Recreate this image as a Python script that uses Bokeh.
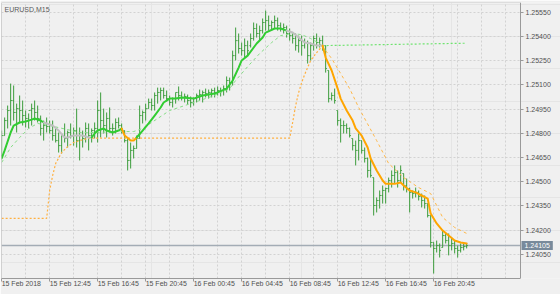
import numpy as np
from bokeh.plotting import figure
from bokeh.models import (Range1d, LinearAxis, FixedTicker, Grid, Label,
                          ColumnDataSource, PrintfTickFormatter)
from bokeh.embed import file_html
from bokeh.resources import INLINE

# ---------------- data (EURUSD M15, 15 Feb 08:45 .. 16 Feb 23:30) ----------------
high = [
1.24817, 1.24898, 1.24972, 1.25108, 1.25096, 1.24984, 1.25034, 1.25003, 1.24941, 1.24923,
1.24984, 1.25003, 1.24972, 1.24910, 1.24879, 1.24898, 1.24879, 1.24879, 1.24830, 1.24805,
1.24786, 1.24861, 1.24817, 1.24861, 1.24836, 1.24953, 1.24836, 1.24817, 1.24867, 1.24861,
1.24830, 1.24867, 1.25003, 1.25053, 1.24953, 1.24929, 1.24960, 1.24861, 1.24892, 1.24898,
1.24861, 1.24817, 1.24774, 1.24743, 1.24724, 1.24786, 1.24972, 1.24941, 1.24984, 1.25015,
1.25015, 1.25053, 1.25083, 1.25083, 1.25083, 1.25065, 1.25034, 1.25022, 1.25053, 1.25090,
1.25059, 1.25046, 1.25040, 1.25028, 1.25022, 1.25046, 1.25071, 1.25065, 1.25077, 1.25071,
1.25077, 1.25083, 1.25090, 1.25083, 1.25096, 1.25152, 1.25145, 1.25312, 1.25455, 1.25418,
1.25362, 1.25387, 1.25374, 1.25418, 1.25486, 1.25480, 1.25467, 1.25511, 1.25560, 1.25529,
1.25498, 1.25529, 1.25517, 1.25486, 1.25480, 1.25467, 1.25449, 1.25424, 1.25418, 1.25405,
1.25405, 1.25387, 1.25374, 1.25362, 1.25405, 1.25418, 1.25393, 1.25405, 1.25343, 1.25189,
1.25053, 1.25077, 1.24941, 1.24892, 1.24879, 1.24861, 1.24836, 1.24768, 1.24755, 1.24799,
1.24755, 1.24712, 1.24650, 1.24644, 1.24526, 1.24403, 1.24446, 1.24477, 1.24464, 1.24526,
1.24570, 1.24601, 1.24570, 1.24601, 1.24551, 1.24520, 1.24464, 1.24446, 1.24464, 1.24446,
1.24427, 1.24415, 1.24365, 1.24291, 1.24124, 1.24136, 1.24118, 1.24198, 1.24186, 1.24180,
1.24155, 1.24136, 1.24105, 1.24118, 1.24118, 1.24118]

low = [
1.24650, 1.24786, 1.24830, 1.24848, 1.24879, 1.24805, 1.24867, 1.24848, 1.24836, 1.24830,
1.24848, 1.24879, 1.24867, 1.24786, 1.24755, 1.24805, 1.24799, 1.24755, 1.24743, 1.24681,
1.24675, 1.24743, 1.24712, 1.24768, 1.24724, 1.24712, 1.24632, 1.24712, 1.24743, 1.24694,
1.24743, 1.24768, 1.24743, 1.24774, 1.24799, 1.24774, 1.24805, 1.24786, 1.24799, 1.24830,
1.24799, 1.24743, 1.24570, 1.24582, 1.24644, 1.24706, 1.24768, 1.24861, 1.24879, 1.24953,
1.24941, 1.24941, 1.24984, 1.25003, 1.25015, 1.24997, 1.24972, 1.24960, 1.24984, 1.25003,
1.25003, 1.24991, 1.24978, 1.24960, 1.24972, 1.24991, 1.25003, 1.24991, 1.25022, 1.25015,
1.25022, 1.25022, 1.25034, 1.25028, 1.25034, 1.25053, 1.25065, 1.25096, 1.25251, 1.25294,
1.25281, 1.25269, 1.25281, 1.25331, 1.25374, 1.25393, 1.25374, 1.25418, 1.25436, 1.25436,
1.25436, 1.25449, 1.25436, 1.25430, 1.25418, 1.25393, 1.25374, 1.25356, 1.25312, 1.25300,
1.25281, 1.25325, 1.25232, 1.25251, 1.25312, 1.25325, 1.25331, 1.25312, 1.25176, 1.24991,
1.25003, 1.24984, 1.24848, 1.24743, 1.24799, 1.24799, 1.24774, 1.24694, 1.24601, 1.24632,
1.24675, 1.24619, 1.24526, 1.24526, 1.24291, 1.24310, 1.24334, 1.24365, 1.24365, 1.24434,
1.24464, 1.24487, 1.24464, 1.24495, 1.24446, 1.24434, 1.24310, 1.24396, 1.24403, 1.24384,
1.24341, 1.24334, 1.24279, 1.24093, 1.23932, 1.24062, 1.24031, 1.24093, 1.24118, 1.24044,
1.24075, 1.24056, 1.24031, 1.24062, 1.24075, 1.24087]

open_ = [
1.24663, 1.24786, 1.24879, 1.24941, 1.25003, 1.24929, 1.24953, 1.24941, 1.24910, 1.24892,
1.24941, 1.24953, 1.24929, 1.24892, 1.24830, 1.24848, 1.24842, 1.24817, 1.24786, 1.24755,
1.24724, 1.24786, 1.24768, 1.24805, 1.24786, 1.24817, 1.24755, 1.24786, 1.24768, 1.24830,
1.24786, 1.24817, 1.24830, 1.24941, 1.24879, 1.24848, 1.24892, 1.24830, 1.24830, 1.24867,
1.24848, 1.24817, 1.24755, 1.24632, 1.24694, 1.24706, 1.24768, 1.24910, 1.24929, 1.24953,
1.24991, 1.24972, 1.25034, 1.25053, 1.25065, 1.25034, 1.25015, 1.24991, 1.25015, 1.25053,
1.25034, 1.25022, 1.25028, 1.25003, 1.24991, 1.25015, 1.25034, 1.25040, 1.25053, 1.25046,
1.25053, 1.25065, 1.25053, 1.25065, 1.25065, 1.25077, 1.25127, 1.25114, 1.25281, 1.25374,
1.25325, 1.25312, 1.25343, 1.25343, 1.25387, 1.25449, 1.25418, 1.25436, 1.25486, 1.25498,
1.25467, 1.25486, 1.25498, 1.25467, 1.25449, 1.25455, 1.25418, 1.25405, 1.25387, 1.25343,
1.25374, 1.25343, 1.25362, 1.25281, 1.25343, 1.25387, 1.25362, 1.25374, 1.25343, 1.25189,
1.25015, 1.25034, 1.24941, 1.24879, 1.24848, 1.24848, 1.24830, 1.24768, 1.24724, 1.24694,
1.24755, 1.24694, 1.24644, 1.24570, 1.24526, 1.24353, 1.24384, 1.24415, 1.24446, 1.24458,
1.24508, 1.24539, 1.24557, 1.24508, 1.24551, 1.24477, 1.24458, 1.24434, 1.24427, 1.24434,
1.24409, 1.24384, 1.24365, 1.24291, 1.24124, 1.24087, 1.24105, 1.24093, 1.24167, 1.24136,
1.24105, 1.24118, 1.24087, 1.24075, 1.24093, 1.24099]

close = [
1.24786, 1.24879, 1.24941, 1.25003, 1.24929, 1.24953, 1.24941, 1.24910, 1.24892, 1.24941,
1.24953, 1.24929, 1.24892, 1.24830, 1.24848, 1.24842, 1.24817, 1.24786, 1.24755, 1.24724,
1.24786, 1.24768, 1.24805, 1.24786, 1.24817, 1.24755, 1.24786, 1.24768, 1.24830, 1.24786,
1.24817, 1.24830, 1.24941, 1.24879, 1.24848, 1.24892, 1.24830, 1.24830, 1.24867, 1.24848,
1.24817, 1.24755, 1.24632, 1.24694, 1.24706, 1.24768, 1.24910, 1.24929, 1.24953, 1.24991,
1.24972, 1.25034, 1.25053, 1.25065, 1.25034, 1.25015, 1.24991, 1.25015, 1.25053, 1.25034,
1.25022, 1.25028, 1.25003, 1.24991, 1.25015, 1.25034, 1.25040, 1.25053, 1.25046, 1.25053,
1.25065, 1.25053, 1.25065, 1.25065, 1.25077, 1.25127, 1.25114, 1.25281, 1.25374, 1.25325,
1.25312, 1.25343, 1.25312, 1.25387, 1.25449, 1.25418, 1.25436, 1.25486, 1.25498, 1.25467,
1.25486, 1.25498, 1.25467, 1.25449, 1.25455, 1.25418, 1.25405, 1.25387, 1.25343, 1.25374,
1.25343, 1.25362, 1.25281, 1.25343, 1.25387, 1.25362, 1.25374, 1.25343, 1.25201, 1.25015,
1.25034, 1.25003, 1.24879, 1.24848, 1.24848, 1.24830, 1.24786, 1.24724, 1.24694, 1.24755,
1.24694, 1.24644, 1.24570, 1.24539, 1.24353, 1.24384, 1.24415, 1.24446, 1.24458, 1.24508,
1.24539, 1.24557, 1.24508, 1.24570, 1.24477, 1.24458, 1.24434, 1.24427, 1.24434, 1.24409,
1.24384, 1.24365, 1.24291, 1.24124, 1.24087, 1.24105, 1.24075, 1.24167, 1.24136, 1.24105,
1.24118, 1.24087, 1.24075, 1.24093, 1.24099, 1.24105]

# fast moving average (thick line): bar index, value, trend of the following segment
fast_bar = [0, 1, 3, 4, 6, 8, 10, 11, 13, 14, 17, 19, 21, 22, 24, 27, 29, 30, 31, 32, 34, 35, 37, 39,
            40, 41, 43, 44, 45, 47, 49, 51, 53, 54, 56, 58, 60, 64, 67, 71, 75, 77, 79, 80, 82, 85,
            87, 88, 91, 93, 95, 97, 99, 101, 103, 105, 107, 108, 110, 112, 113, 115, 117, 118, 120,
            122, 123, 125, 127, 128, 131, 133, 134, 136, 138, 140, 142, 143, 145, 147, 149, 151, 153, 155]
fast_val = [1.24644, 1.24694, 1.24805, 1.24848, 1.24867, 1.24873, 1.24885, 1.24892, 1.24879, 1.24867,
            1.24848, 1.24817, 1.24774, 1.24774, 1.24786, 1.24786, 1.24774, 1.24774, 1.24799, 1.24817,
            1.24830, 1.24817, 1.24805, 1.24817, 1.24830, 1.24786, 1.24755, 1.24755, 1.24774, 1.24817,
            1.24861, 1.24910, 1.24960, 1.24991, 1.25015, 1.25015, 1.25022, 1.25015, 1.25034, 1.25046,
            1.25077, 1.25127, 1.25207, 1.25251, 1.25281, 1.25356, 1.25393, 1.25424, 1.25449, 1.25449,
            1.25436, 1.25424, 1.25393, 1.25362, 1.25356, 1.25343, 1.25343, 1.25269, 1.25189, 1.25077,
            1.25015, 1.24941, 1.24879, 1.24830, 1.24786, 1.24712, 1.24644, 1.24570, 1.24508, 1.24487,
            1.24487, 1.24495, 1.24477, 1.24446, 1.24434, 1.24415, 1.24396, 1.24303, 1.24242, 1.24198,
            1.24167, 1.24136, 1.24124, 1.24118]
fast_trend = (["up"] * 9 + ["flat"] * 8 + ["up"] * 7 + ["down"] * 4 + ["up"] * 22
              + ["flat"] * 6 + ["down"] * 27)

# slow moving average (dashed line)
slow_bar = [0, 3, 6, 9, 12, 16, 22, 26, 32, 38, 44, 47, 50, 56, 63, 70, 76, 78, 82, 86, 90, 93, 97,
            100, 103, 106, 108, 110, 113, 116, 119, 125, 129, 134, 139, 143, 147, 151, 155]
slow_val = [1.24619, 1.24712, 1.24774, 1.24830, 1.24861, 1.24848, 1.24823, 1.24805, 1.24805, 1.24811,
            1.24811, 1.24830, 1.24867, 1.24941, 1.24984, 1.25028, 1.25077, 1.25127, 1.25213, 1.25294,
            1.25362, 1.25405, 1.25418, 1.25411, 1.25387, 1.25356, 1.25312, 1.25263, 1.25170, 1.25077,
            1.24960, 1.24755, 1.24613, 1.24526, 1.24464, 1.24427, 1.24279, 1.24217, 1.24180]
slow_trend = ["up"] * 26 + ["down"] * 12

# dotted stop line
stop_bar = [0, 15, 16, 17, 18, 20, 22, 24, 26, 29, 96, 97, 98, 99, 100, 101, 103, 105, 107, 155]
stop_val = [1.24273, 1.24273, 1.24446, 1.24539, 1.24613, 1.24681, 1.24718, 1.24743, 1.24755, 1.24770,
            1.24770, 1.24867, 1.24972, 1.25053, 1.25114, 1.25164, 1.25251, 1.25300, 1.25343, 1.25358]
stop_trend = ["down"] * 18 + ["up"]

price_ticks = [1.24050, 1.24200, 1.24350, 1.24500, 1.24650, 1.24800, 1.24950,
               1.25100, 1.25250, 1.25400, 1.25550]
time_ticks = [0, 16, 32, 48, 64, 80, 96, 112, 128, 144]
time_labels = ["15 Feb 2018", "15 Feb 12:45", "15 Feb 16:45", "15 Feb 20:45", "16 Feb 00:45",
               "16 Feb 04:45", "16 Feb 08:45", "16 Feb 12:45", "16 Feb 16:45", "16 Feb 20:45"]
last_price = 1.24105
symbol = "EURUSD,M15"

# ---------------- styling ----------------
BG = "#f0f0f0"
BAR = "#3c9c3c"
FAST_COL = {"up": "#32cd32", "flat": "#c0c0c0", "down": "#ffa500"}
SLOW_COL = {"up": "#86dc86", "down": "#ffb84a"}
STOP_COL = {"up": "#6fe36f", "down": "#ffb040"}
FONT = "Liberation Sans"
TXT = "#505050"
AXC = "#9a9a9a"
GRID = "#d2d2d2"

# the frame spans to the right edge; the price scale is an axis pinned at XP
X0 = -0.05            # left edge of the chart area (bar units)
XP = 172.95           # right edge of the chart area = price scale position
X1 = 186.28           # right edge of the canvas
Y0, Y1 = 1.23901, 1.25610

p = figure(width=560, height=294, output_backend="svg", toolbar_location=None,
           x_range=Range1d(X0, X1), y_range=Range1d(Y0, Y1),
           x_axis_location=None, y_axis_location=None,
           min_border_left=1, min_border_right=0, min_border_top=2, min_border_bottom=16,
           background_fill_color=BG, border_fill_color=BG, outline_line_color=None)

# grids
vgrid = Grid(dimension=0, ticker=FixedTicker(ticks=list(range(8, 172, 8))),
             grid_line_color=GRID, grid_line_dash="2 2", grid_line_width=1)
hgrid = Grid(dimension=1, ticker=FixedTicker(ticks=price_ticks),
             grid_line_color=GRID, grid_line_dash="2 2", grid_line_width=1)
try:
    hgrid.cross_bounds = (X0, XP)
except Exception:
    pass
p.add_layout(vgrid)
p.add_layout(hgrid)

# chart border (left / top) as bare axes lines
left_border = LinearAxis(fixed_location=X0, ticker=FixedTicker(ticks=[]), major_tick_out=0,
                         minor_tick_out=0, axis_line_color="#b4b4b4", major_label_text_font_size="0px")
top_border = LinearAxis(fixed_location=Y1, ticker=FixedTicker(ticks=[]), major_tick_out=0,
                        minor_tick_out=0, axis_line_color="#c8c8c8", bounds=(X0, XP),
                        major_label_text_font_size="0px")
p.add_layout(left_border, "left")
p.add_layout(top_border, "above")

# price axis pinned at the chart's right edge
yax = LinearAxis(fixed_location=XP, ticker=FixedTicker(ticks=price_ticks),
                 formatter=PrintfTickFormatter(format="%.5f"),
                 major_tick_in=0, major_tick_out=3, minor_tick_out=0, minor_tick_in=0,
                 axis_line_color=AXC, major_tick_line_color=AXC,
                 major_label_text_font=FONT, major_label_text_font_size="7px",
                 major_label_text_color=TXT, major_label_standoff=2)
p.add_layout(yax, "right")

# time axis: labels start at their tick (tiny negative orientation -> left aligned)
xax = LinearAxis(ticker=FixedTicker(ticks=time_ticks), bounds=(X0, XP),
                 major_label_overrides={t: s for t, s in zip(time_ticks, time_labels)},
                 major_label_orientation=-1e-4,
                 major_tick_in=0, major_tick_out=3, minor_tick_out=0, minor_tick_in=0,
                 axis_line_color=AXC, major_tick_line_color=AXC,
                 major_label_text_font=FONT, major_label_text_font_size="7px",
                 major_label_text_color=TXT, major_label_standoff=2)
p.add_layout(xax, "below")

# current price line
p.segment(x0=[X0], y0=[last_price], x1=[XP], y1=[last_price], line_color="#a3acb5", line_width=1.5)

# OHLC bars
idx = np.arange(len(close))
src = ColumnDataSource(dict(x=idx, xl=idx - 0.4, xr=idx + 0.4, h=high, l=low, o=open_, c=close))
p.segment("x", "l", "x", "h", source=src, line_color=BAR, line_width=1)
p.segment("xl", "o", "x", "o", source=src, line_color=BAR, line_width=1)
p.segment("x", "c", "xr", "c", source=src, line_color=BAR, line_width=1)


def runs(xs, ys, trend):
    out = []
    start = 0
    for k in range(1, len(trend) + 1):
        if k == len(trend) or trend[k] != trend[start]:
            out.append((trend[start], xs[start:k + 1], ys[start:k + 1]))
            start = k
    return out


for t, xs, ys in runs(stop_bar, stop_val, stop_trend):
    p.line(xs, ys, line_color=STOP_COL[t], line_width=1.2, line_dash="2 2")
for t, xs, ys in runs(slow_bar, slow_val, slow_trend):
    p.line(xs, ys, line_color=SLOW_COL[t], line_width=1, line_dash="3 3")
for t, xs, ys in runs(fast_bar, fast_val, fast_trend):
    p.line(xs, ys, line_color=FAST_COL[t], line_width=2, line_join="round", line_cap="round")

# symbol caption
p.add_layout(Label(x=X0, y=Y1, x_offset=3, y_offset=-3, text=symbol, text_baseline="top",
                   text_font=FONT, text_font_size="7px", text_color="#5a5a5a"))

# last price tag on the price scale
try:
    pad = dict(padding=(3, 2))
    Label(x=0, y=0, text="", **pad)
except Exception:
    pad = dict(padding=2)
p.add_layout(Label(x=XP, y=last_price, x_offset=1, text="%.5f" % last_price, text_baseline="middle",
                   text_align="left", text_font=FONT, text_font_size="7px", text_color="white",
                   background_fill_color="#788a9b", **pad))

open("out.html", "w").write(file_html(p, INLINE))
